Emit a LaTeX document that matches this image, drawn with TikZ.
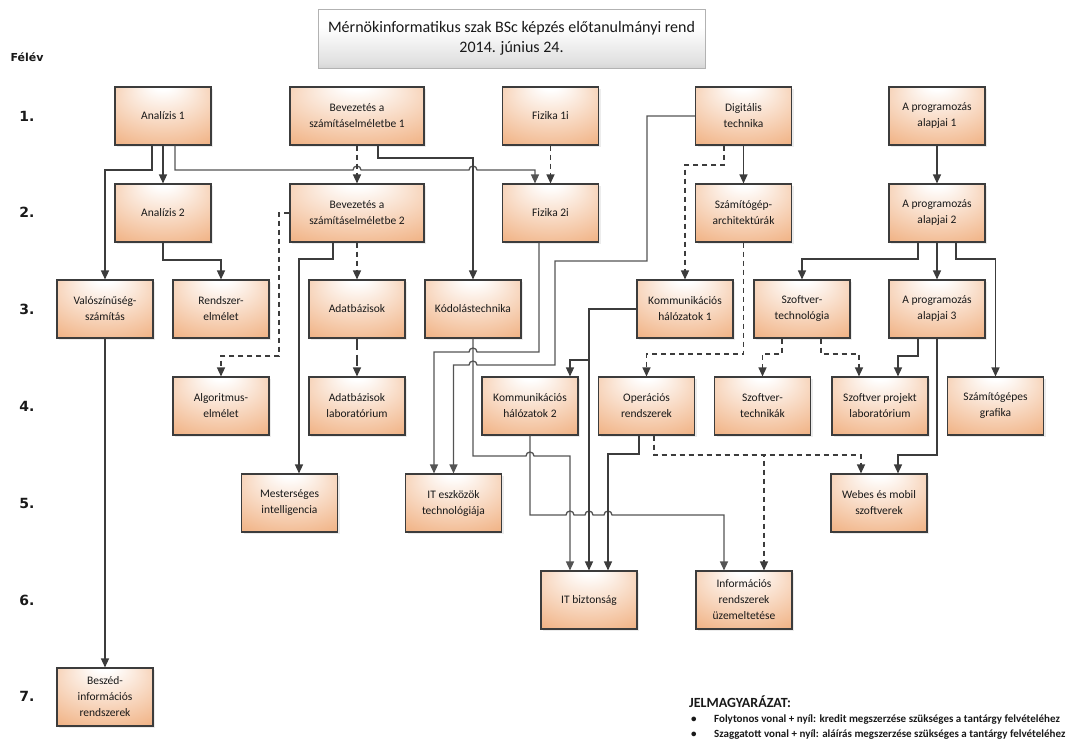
\documentclass[tikz,border=0pt]{standalone}
\usepackage{fontspec}
\setmainfont{Carlito}
\newfontfamily\semfont{DejaVu Sans}
\usetikzlibrary{positioning,arrows.meta,shadows,calc}
\definecolor{courseorange}{RGB}{234,143,76}
\definecolor{myline}{RGB}{60,60,60}
\definecolor{mygrey}{RGB}{84,84,84}
\definecolor{myborder}{RGB}{60,60,60}
\pgfdeclareradialshading{coursefill}{\pgfpoint{0bp}{30bp}}{color(0bp)=(white);color(5bp)=(white);color(58bp)=(courseorange)}
\pgfdeclareverticalshading{titlefill}{100bp}{color(0bp)=(black!38);color(30bp)=(black!12);color(60bp)=(white);color(100bp)=(white)}

\begin{document}
\begin{tikzpicture}[x=1pt,y=-1pt,
	every node/.style={font=\fontsize{11.5}{16}\selectfont,text=black!90},
	coursenode/.style={draw=myborder,line width=1.1pt,shade,shading=coursefill,
		minimum width=96pt,minimum height=58pt,inner sep=1pt,align=center,
		drop shadow={shadow xshift=2pt,shadow yshift=-2pt,fill=black!15}},
	widenode/.style={coursenode,minimum width=134pt},
	titlenode/.style={draw=black!30,line width=0.8pt,shade,shading=titlefill,
		minimum width=387pt,minimum height=59pt,align=center,
		font=\fontsize{16}{20}\selectfont},
	semnode/.style={font=\semfont\bfseries\fontsize{14}{16}\selectfont},
	legendnode/.style={anchor=west,inner sep=0pt,font=\bfseries\fontsize{11}{12}\selectfont},
	kredit/.style={draw=myline,line width=1.3pt,-{Triangle[length=9pt,width=8pt]}},
	kreditgrey/.style={kredit,draw=mygrey},
	alairas/.style={kredit,dash pattern=on 5pt off 4pt},
	alairaslong/.style={kredit,dash pattern=on 11pt off 5pt},
	jumpr/.style={insert path={arc[start angle=180,end angle=360,radius=4]}},
	jumpl/.style={insert path={arc[start angle=0,end angle=-180,radius=4]}},
	]
	\useasboundingbox (0,0) rectangle (1074,750);
	
	% title and semesters
	\node[titlenode] (title) at (511.5,38.5) {Mérnökinformatikus szak BSc képzés előtanulmányi rend\\2014. június 24.};
	\node[semnode,font=\semfont\bfseries\fontsize{11}{12}\selectfont] (felev) at (27,57) {Félév};
	\foreach \i in {1,...,7}
	\node[semnode] (sem\i) at (27,{116+96.8*(\i-1)}) {\i.};
	
	% the courses of semester 1
	\node[coursenode] (ana1) at (163,116) {Analízis 1};
	\node[widenode] (bev1) at (357,116) {Bevezetés a\\számításelméletbe 1};
	\node[coursenode] (fiz1) at (550.5,116) {Fizika 1i};
	\node[coursenode] (dig) at (743.5,116) {Digitális\\technika};
	\node[coursenode] (prog1) at (937,116) {A programozás\\alapjai 1};
	
	% the courses of semester 2
	\node[coursenode] (ana2) at (163,213) {Analízis 2};
	\node[widenode] (bev2) at (357,213) {Bevezetés a\\számításelméletbe 2};
	\node[coursenode] (fiz2) at (550.5,213) {Fizika 2i};
	\node[coursenode] (arch) at (743.5,213) {Számítógép-\\architektúrák};
	\node[coursenode] (prog2) at (937,213) {A programozás\\alapjai 2};
	
	% the courses of semester 3
	\node[coursenode] (valo) at (105,309) {Valószínűség-\\számítás};
	\node[coursenode] (rendsz) at (221,309) {Rendszer-\\elmélet};
	\node[coursenode] (adat) at (357,309) {Adatbázisok};
	\node[coursenode] (kod) at (473,309) {Kódolástechnika};
	\node[coursenode] (komm1) at (685,309) {Kommunikációs\\hálózatok 1};
	\node[coursenode] (sztech) at (802,309) {Szoftver-\\technológia};
	\node[coursenode] (prog3) at (937,309) {A programozás\\alapjai 3};
	
	% the courses of semester 4
	\node[coursenode] (algo) at (221,406) {Algoritmus-\\elmélet};
	\node[coursenode] (adatlab) at (357,406) {Adatbázisok\\laboratórium};
	\node[coursenode] (komm2) at (530,406) {Kommunikációs\\hálózatok 2};
	\node[coursenode] (oprsz) at (646.5,406) {Operációs\\rendszerek};
	\node[coursenode] (szteck) at (762.5,406) {Szoftver-\\technikák};
	\node[coursenode] (szproj) at (880,406) {Szoftver projekt\\laboratórium};
	\node[coursenode] (graf) at (995.5,406) {Számítógépes\\grafika};
	
	% the courses of semester 5, 6 and 7
	\node[coursenode] (mi) at (289.5,503) {Mesterséges\\intelligencia};
	\node[coursenode] (itesz) at (453.5,503) {IT eszközök\\technológiája};
	\node[coursenode] (webes) at (879,503) {Webes és mobil\\szoftverek};
	\node[coursenode] (itbiz) at (589,600) {IT biztonság};
	\node[coursenode] (info) at (744,600) {Információs\\rendszerek\\üzemeltetése};
	\node[coursenode] (beszed) at (105,697) {Beszéd-\\információs\\rendszerek};
	
	% legend
	\node[legendnode,font=\bfseries\fontsize{14}{15}\selectfont] (jelm) at (689,702) {JELMAGYARÁZAT:};
	\node[legendnode] (bul1) at (691,720) {\textbullet};
	\node[legendnode] (leg1) at (714,720) {Folytonos vonal + nyíl: kredit megszerzése szükséges a tantárgy felvételéhez};
	\node[legendnode] (bul2) at (691,735) {\textbullet};
	\node[legendnode] (leg2) at (714,735) {Szaggatott vonal + nyíl: aláírás megszerzése szükséges a tantárgy felvételéhez};
	
	% the edges (kredit)
	\draw[kredit] ([xshift=-11pt]ana1.south) |- (105,170) -- (valo.north);
	\draw[kredit] (ana1.south) -- (ana2.north);
	\draw[kreditgrey] ([xshift=12pt]ana1.south) |- (353,170) [jumpr] -- (469,170) [jumpr] -| ([xshift=-15.5pt]fiz2.north);
	\draw[kredit] ([xshift=21pt]bev1.south) |- (473,158) -- (kod.north);
	\draw[kreditgrey] (dig.west) -| (647,261) -| (555,365) -- (477,365) [jumpl] -| (itesz.north);
	\draw[kreditgrey] ([xshift=-11.5pt]fiz2.south) |- (477,352) [jumpl] -| ([xshift=-19.5pt]itesz.north);
	\draw[kreditgrey] (kod.south) |- (526,456) [jumpr] -| ([xshift=-19pt]itbiz.north);
	\draw[kreditgrey] (komm2.south) |- (566,515) [jumpr] -- (585,515) [jumpr] -- (604,515) [jumpr] -| ([xshift=-20pt]info.north);
	\draw[kredit] (komm1.west) -| (589,360) -| ([xshift=40pt]komm2.north);
	\draw[kredit] (komm1.west) -| (itbiz.north);
	\draw[kredit] ([xshift=-7.5pt]oprsz.south) |- (608,454) -- ([xshift=19pt]itbiz.north);
	\draw[kredit] (dig.south) -- (arch.north);
	\draw[kredit] (prog1.south) -- (prog2.north);
	\draw[kredit] ([xshift=-19pt]prog2.south) |- (802,259) -- (sztech.north);
	\draw[kredit] (prog2.south) -- (prog3.north);
	\draw[kredit] ([xshift=19pt]prog2.south) |- (995.5,259) -- (graf.north);
	\draw[kredit] ([xshift=-19pt]prog3.south) |- (898,356) -- ([xshift=18pt]szproj.north);
	\draw[kredit] (prog3.south) |- (898,455) -- ([xshift=19pt]webes.north);
	\draw[kredit] (ana2.south) |- (221,260) -- (rendsz.north);
	\draw[kredit] ([xshift=-24pt]bev2.south) |- (299,259) -- ([xshift=9.5pt]mi.north);
	\draw[kredit] (valo.south) -- (beszed.north);
	
	% the edges (alairas)
	\draw[alairas] (bev1.south) -- (bev2.north);
	\draw[alairas] (fiz1.south) -- (fiz2.north);
	\draw[alairas] ([xshift=-19.5pt]dig.south) |- (685,165) -- (komm1.north);
	\draw[alairas] (bev2.west) -| (279,356) -| (algo.north);
	\draw[alairas] (bev2.south) -- (adat.north);
	\draw[alairaslong] (adat.south) -- (adatlab.north);
	\draw[alairas] (arch.south) |- (646.5,354) -- (oprsz.north);
	\draw[alairas] ([xshift=-20pt]sztech.south) |- (762.5,354) -- (szteck.north);
	\draw[alairas] ([xshift=19pt]sztech.south) |- (859,354) -- ([xshift=-21pt]szproj.north);
	\draw[alairas] ([xshift=7.5pt]oprsz.south) |- (861,455) -- ([xshift=-18pt]webes.north);
	\draw[alairas] ([xshift=7.5pt]oprsz.south) |- (764,455) -- ([xshift=20pt]info.north);
\end{tikzpicture}
\end{document}
